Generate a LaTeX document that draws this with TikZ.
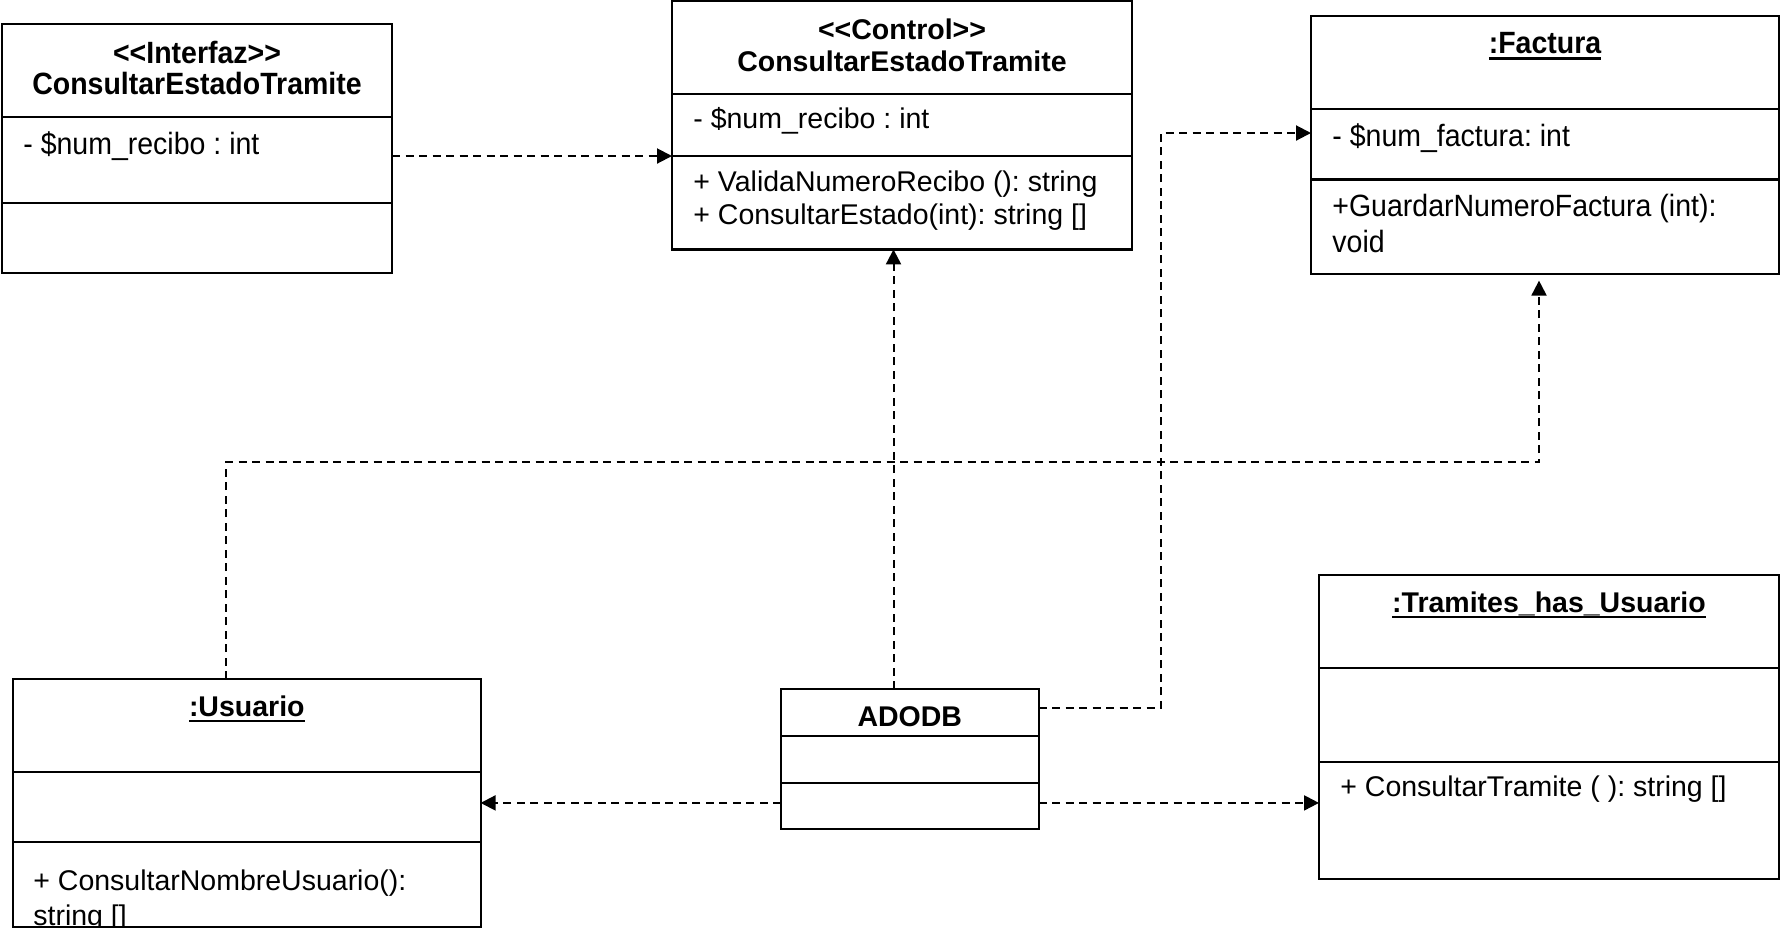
\documentclass[tikz,border=0pt]{standalone}
\usepackage{fontspec}
\setmainfont{Liberation Sans}
\usetikzlibrary{calc,arrows.meta}
\frenchspacing

\begin{document}
\begin{tikzpicture}[x=0.5pt,y=-0.5pt,
  classbox/.style={draw,line width=1.1pt,inner sep=0pt,outer sep=0pt,anchor=north west},
  sepline/.style={line width=1.1pt},
  txt/.style={inner sep=0pt,font=\fontsize{14.25}{17}\selectfont\frenchspacing},
  ttl/.style={txt,font=\fontsize{14.25}{17}\selectfont\bfseries\frenchspacing},
  dep/.style={line width=1pt,dash pattern=on 4pt off 2.75pt,-{Triangle[length=7.5pt,width=7.5pt]}}]
\useasboundingbox (0,0) rectangle (1780,928);
\clip (0,0) rectangle (1780,928);
\newcommand{\tallish}[1]{\scalebox{1}[1.08]{#1}}
\newcommand{\objname}[1]{\setbox0=\hbox{#1}\leavevmode\rlap{\rule[-3pt]{\wd0}{1.3pt}}\box0}

% <<Interfaz>> ConsultarEstadoTramite
\node[classbox,minimum width=195pt,minimum height=124.5pt] (iface) at (2,24) {};
\draw[sepline] ($(iface.north west)+(0,93)$) -- ($(iface.north east)+(0,93)$);
\draw[sepline] ($(iface.north west)+(0,179)$) -- ($(iface.north east)+(0,179)$);
\node[ttl] (ifaceS) at ($(iface.north)+(0,28)$) {\tallish{<{}<Interfaz>{}>}};
\node[ttl] (ifaceT) at ($(iface.north)+(0,59)$) {\tallish{ConsultarEstadoTramite}};
\node[txt,anchor=west] (ifaceA) at ($(iface.north west)+(21,122)$) {\tallish{- \$num\_recibo : int}};

% <<Control>> ConsultarEstadoTramite
\node[classbox,minimum width=230pt,minimum height=124.2pt] (ctrl) at (672,1) {};
\draw[sepline] ($(ctrl.north west)+(0,93)$) -- ($(ctrl.north east)+(0,93)$);
\draw[sepline] ($(ctrl.north west)+(0,155)$) -- ($(ctrl.north east)+(0,155)$);
\node[ttl] (ctrlS) at ($(ctrl.north)+(0,28.5)$) {<{}<Control>{}>};
\node[ttl] (ctrlT) at ($(ctrl.north)+(0,60)$) {ConsultarEstadoTramite};
\node[txt,anchor=west] (ctrlA) at ($(ctrl.north west)+(21,120)$) {- \$num\_recibo : int};
\node[txt,anchor=west] (ctrlM1) at ($(ctrl.north west)+(21,183)$) {+ ValidaNumeroRecibo (): string};
\node[txt,anchor=west] (ctrlM2) at ($(ctrl.north west)+(21,216)$) {+ ConsultarEstado(int): string []};

% :Factura
\node[classbox,minimum width=234pt,minimum height=128.8pt] (fact) at (1311,16) {};
\draw[sepline] ($(fact.north west)+(0,93)$) -- ($(fact.north east)+(0,93)$);
\draw[sepline] ($(fact.north west)+(0,163.5)$) -- ($(fact.north east)+(0,163.5)$);
\node[ttl] (factT) at ($(fact.north)+(0,30)$) {\tallish{\objname{:Factura}}};
\node[txt,anchor=west] (factA) at ($(fact.north west)+(21,122)$) {\tallish{- \$num\_factura: int}};
\node[txt,anchor=west] (factM1) at ($(fact.north west)+(21,193)$) {\tallish{+GuardarNumeroFactura (int):}};
\node[txt,anchor=west] (factM2) at ($(fact.north west)+(21,225)$) {\tallish{void}};

% :Usuario
\node[classbox,minimum width=233.8pt,minimum height=123.9pt] (usr) at (13,679) {};
\draw[sepline] ($(usr.north west)+(0,93)$) -- ($(usr.north east)+(0,93)$);
\draw[sepline] ($(usr.north west)+(0,163)$) -- ($(usr.north east)+(0,163)$);
\node[ttl] (usrT) at ($(usr.north)+(0,30)$) {\objname{:Usuario}};
\begin{scope}
  \clip (usr.north west) rectangle (usr.south east);
  \node[txt,anchor=base west] (usrM1) at ($(usr.north west)+(20,211)$) {+ ConsultarNombreUsuario():};
  \node[txt,anchor=base west] (usrM2) at ($(usr.north west)+(20,246)$) {string []};
\end{scope}

% ADODB
\node[classbox,minimum width=128.8pt,minimum height=70pt] (adodb) at (781,689) {};
\draw[sepline] ($(adodb.north west)+(0,47)$) -- ($(adodb.north east)+(0,47)$);
\draw[sepline] ($(adodb.north west)+(0,94)$) -- ($(adodb.north east)+(0,94)$);
\node[ttl] (adodbT) at ($(adodb.north)+(0,28)$) {ADODB};

% :Tramites_has_Usuario
\node[classbox,minimum width=230pt,minimum height=152pt] (tram) at (1319,575) {};
\draw[sepline] ($(tram.north west)+(0,93)$) -- ($(tram.north east)+(0,93)$);
\draw[sepline] ($(tram.north west)+(0,187)$) -- ($(tram.north east)+(0,187)$);
\node[ttl] (tramT) at ($(tram.north)+(0,30)$) {\objname{:Tramites\_has\_Usuario}};
\node[txt,anchor=west] (tramM) at ($(tram.north west)+(21,214)$) {+ ConsultarTramite ( ): string []};

% dependencies
\draw[dep] ($(iface.north east)+(0,132)$) -- ($(ctrl.north west)+(0,155)$);
\draw[dep] ($(adodb.north west)+(112.5,0)$) -- ($(ctrl.south west)+(221.5,0)$);
\draw[dep] ($(adodb.north east)+(0,19)$) -- ++(122,0) |- ($(fact.north west)+(0,117)$);
\draw[dep] ($(usr.north west)+(213,0)$) -- ++(0,-217) -| ($(fact.south west)+(228,7)$);
\draw[dep] (adodb.west |- usr.east) -- (usr.east);
\draw[dep] (adodb.east |- usr.east) -- (tram.west |- usr.east);
\end{tikzpicture}
\end{document}
